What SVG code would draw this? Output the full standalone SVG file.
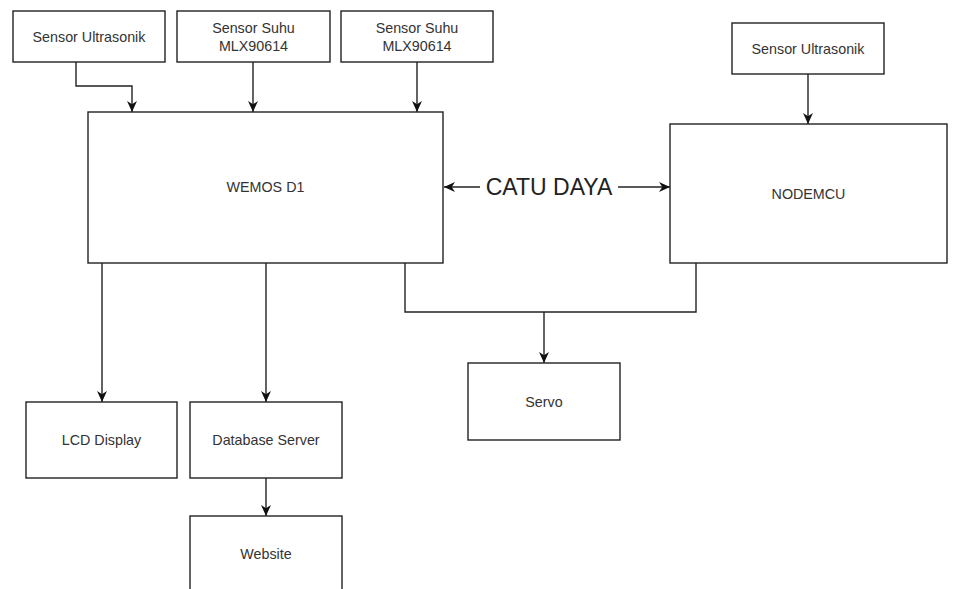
<svg xmlns="http://www.w3.org/2000/svg" width="955" height="589" viewBox="0 0 955 589">
<style>
.box{fill:#fff;stroke:#222;stroke-width:1.4}
.t{font-family:"Liberation Sans",Arial,sans-serif;font-size:14.3px;fill:#333;text-anchor:middle;dominant-baseline:central}
.big{font-family:"Liberation Sans",Arial,sans-serif;font-size:23px;fill:#222;text-anchor:middle;dominant-baseline:central}
.c{fill:none;stroke:#222;stroke-width:1.4}
</style>
<defs>
<marker id="ah" markerUnits="userSpaceOnUse" viewBox="0 0 10 10" refX="10" refY="5" markerWidth="11" markerHeight="11" orient="auto">
<path d="M0,0.5 L10,5 L0,9.5 L3,5 Z" fill="#111"/>
</marker>
</defs>
<rect width="955" height="589" fill="#fff"/>
<g id="connectors">
<path class="c" d="M76,62 V86 H132 V112" marker-end="url(#ah)"/>
<path class="c" d="M253,62 V112" marker-end="url(#ah)"/>
<path class="c" d="M417,62 V112" marker-end="url(#ah)"/>
<path class="c" d="M808,74 V124" marker-end="url(#ah)"/>
<path class="c" d="M480,187 H444" marker-end="url(#ah)"/>
<path class="c" d="M618,187 H670" marker-end="url(#ah)"/>
<path class="c" d="M102,263 V402" marker-end="url(#ah)"/>
<path class="c" d="M266,263 V402" marker-end="url(#ah)"/>
<path class="c" d="M266,478 V516" marker-end="url(#ah)"/>
<path class="c" d="M405,263 V312 H696 V263"/>
<path class="c" d="M544,312 V363" marker-end="url(#ah)"/>
<text class="big" x="549" y="187">CATU DAYA</text>
</g>
<g id="sensor-ultrasonik-1"><rect class="box" x="13" y="11" width="152" height="51"/><text class="t" x="89" y="37">Sensor Ultrasonik</text></g>
<g id="sensor-suhu-1"><rect class="box" x="177" y="11" width="153" height="51"/><text class="t" x="253.5" y="28">Sensor Suhu</text><text class="t" x="253.5" y="46">MLX90614</text></g>
<g id="sensor-suhu-2"><rect class="box" x="341" y="11" width="152" height="51"/><text class="t" x="417" y="28">Sensor Suhu</text><text class="t" x="417" y="46">MLX90614</text></g>
<g id="sensor-ultrasonik-2"><rect class="box" x="732" y="23" width="152" height="51"/><text class="t" x="808" y="49">Sensor Ultrasonik</text></g>
<g id="wemos"><rect class="box" x="88" y="112" width="355" height="151"/><text class="t" x="265.5" y="187">WEMOS D1</text></g>
<g id="nodemcu"><rect class="box" x="670" y="124" width="277" height="139"/><text class="t" x="808.5" y="194">NODEMCU</text></g>
<g id="lcd"><rect class="box" x="26" y="402" width="151" height="76"/><text class="t" x="101.5" y="440">LCD Display</text></g>
<g id="database"><rect class="box" x="190" y="402" width="152" height="76"/><text class="t" x="266" y="440">Database Server</text></g>
<g id="website"><rect class="box" x="190" y="516" width="152" height="80"/><text class="t" x="266" y="554">Website</text></g>
<g id="servo"><rect class="box" x="468" y="363" width="152" height="77"/><text class="t" x="544" y="402">Servo</text></g>
</svg>
